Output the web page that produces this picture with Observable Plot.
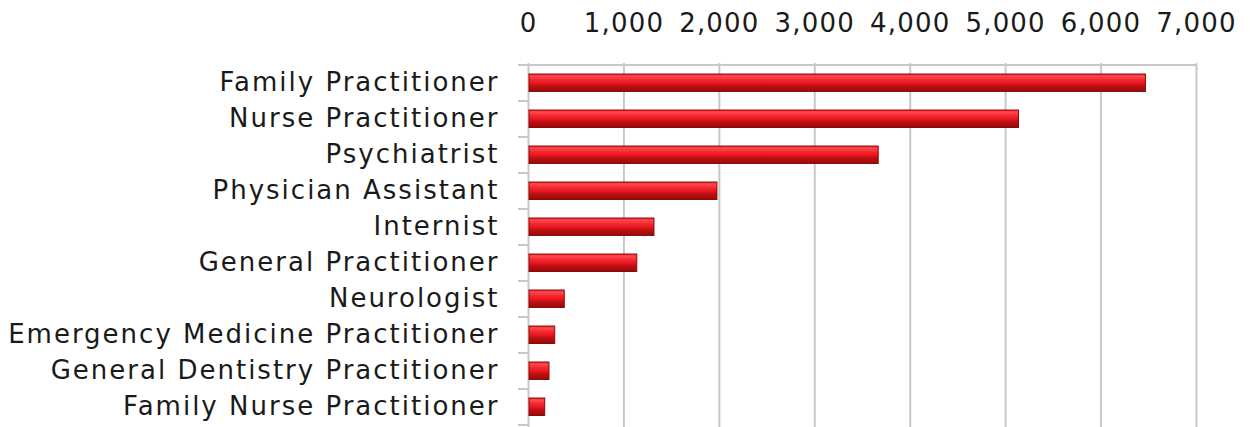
<!DOCTYPE html>
<html>
<head>
<meta charset="utf-8">
<script src="https://cdn.jsdelivr.net/npm/d3@7"></script>
<script src="https://cdn.jsdelivr.net/npm/@observablehq/plot@0.6"></script>
<style>
  html, body { margin: 0; padding: 0; background: #fff; }
  #chart svg { display: block; }
  #chart svg g[aria-label="y-axis tick label"] text { letter-spacing: 2px; }
  #chart svg g[aria-label="x-axis tick label"] text { letter-spacing: 1.2px; }
</style>
</head>
<body>
<div id="chart"></div>
<script>
const categories = [
  "Family Practitioner",
  "Nurse Practitioner",
  "Psychiatrist",
  "Physician Assistant",
  "Internist",
  "General Practitioner",
  "Neurologist",
  "Emergency Medicine Practitioner",
  "General Dentistry Practitioner",
  "Family Nurse Practitioner"
];
const values = [6470, 5140, 3670, 1980, 1320, 1140, 380, 280, 220, 175];
const xTicks = [0, 1000, 2000, 3000, 4000, 5000, 6000, 7000];

const data = categories.map((c, i) => ({category: c, value: values[i]}));

const gridColor = "#c8c8c8";
const fontFamily = "'DejaVu Sans', sans-serif";

// custom mark: category boundary ticks and the top axis line, positioned by the y band scale
function bandTicks(index, scales, values, dimensions) {
  const g = d3.create("svg:g");
  const y = scales.y, x = scales.x;
  const bw = y.bandwidth();
  const x0 = x(0);
  const bounds = categories.map(c => y(c)).concat([y(categories[categories.length - 1]) + bw]);
  g.selectAll("line.t").data(bounds).join("line")
    .attr("x1", x0 - 10).attr("x2", x0)
    .attr("y1", d => d).attr("y2", d => d)
    .attr("stroke", gridColor).attr("stroke-width", 2);
  g.append("line")
    .attr("x1", x0 - 10).attr("x2", x(7000))
    .attr("y1", bounds[0]).attr("y2", bounds[0])
    .attr("stroke", gridColor).attr("stroke-width", 2);
  return g.node();
}

const chart = Plot.plot({
  width: 1250,
  height: 427,
  marginTop: 63,
  marginBottom: 0,
  marginLeft: 528,
  marginRight: 54,
  style: {fontFamily, fontSize: "26px", color: "#1a1a1a", background: "#fff"},
  x: {domain: [0, 7000], axis: null, label: null},
  y: {domain: categories, padding: 0, axis: null, label: null},
  marks: [
    Plot.ruleX(xTicks, {stroke: gridColor, strokeWidth: 2, strokeOpacity: 1}),
    bandTicks,
    Plot.axisX(xTicks, {anchor: "top", label: null, tickSize: 0, tickPadding: 32, tickFormat: d3.format(","), fontSize: 26, fill: "#1a1a1a"}),
    Plot.axisY({anchor: "left", label: null, tickSize: 0, tickPadding: 29, fontSize: 26, fill: "#1a1a1a", dy: -1}),
    Plot.barX(data, {y: "category", x: "value", fill: "url(#barGrad)", stroke: "#8e0b0b", strokeWidth: 1, insetLeft: 1, insetTop: 9, insetBottom: 9.5}),
  ]
});

// gradient definition for the bevelled bar look
const defs = d3.select(chart).insert("defs", ":first-child");
const grad = defs.append("linearGradient").attr("id", "barGrad")
  .attr("x1", 0).attr("y1", 0).attr("x2", 0).attr("y2", 1);
[
  [0, "#e8232b"], [0.12, "#ff4a4f"], [0.35, "#f5262c"], [0.55, "#e0151b"],
  [0.7, "#b80f12"], [0.9, "#a50c0e"], [1, "#8c0a0b"]
].forEach(([o, c]) => grad.append("stop").attr("offset", o).attr("stop-color", c));

document.getElementById("chart").appendChild(chart);
</script>
</body>
</html>
